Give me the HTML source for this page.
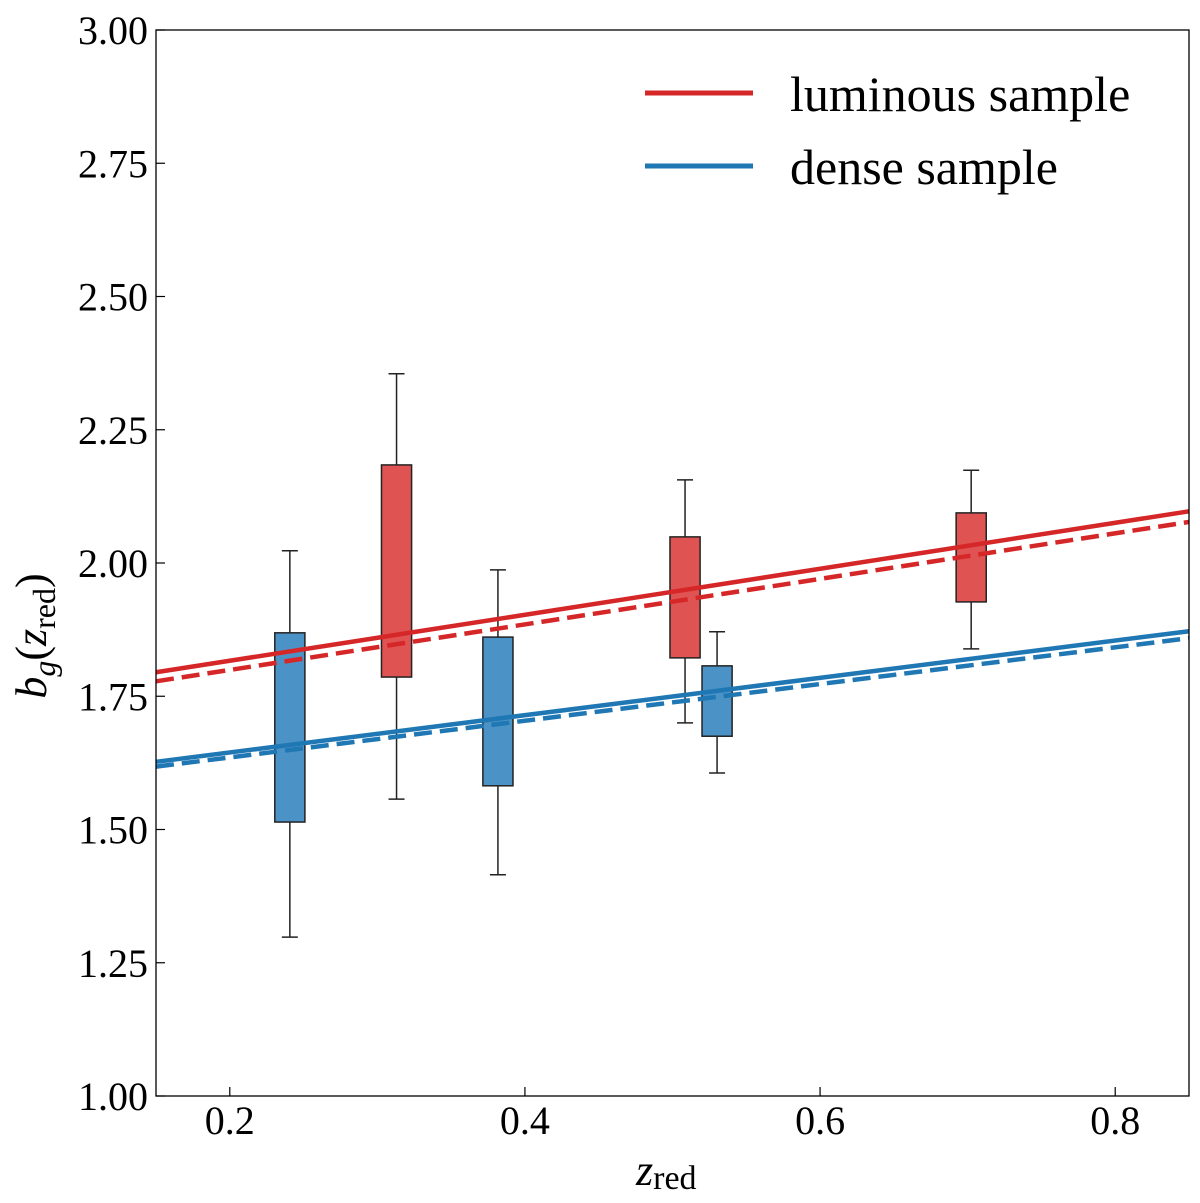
<!DOCTYPE html>
<html><head><meta charset="utf-8"><style>
html,body{margin:0;padding:0;background:#fff;}
body{position:relative;}
svg text{font-family:"Liberation Serif",serif;fill:#000;}
</style></head><body>
<svg id="chart" width="1200" height="1198" xmlns="http://www.w3.org/2000/svg">
<g id="marks"></g>
<g id="axes"></g>
</svg>
<script>
const boxZ=[0.2407,0.313,0.3817,0.5085,0.5302,0.7024];
const boxSeries=["dense","luminous","dense","luminous","dense","luminous"];
const boxQ1=[1.514,1.786,1.582,1.822,1.675,1.927];
const boxQ3=[1.869,2.184,1.861,2.049,1.807,2.094];
const whiskLo=[1.298,1.557,1.415,1.700,1.606,1.839];
const whiskHi=[2.023,2.355,1.987,2.156,1.871,2.174];
const lineX=[0.15,0.85];
const redSolid=[1.795,2.097];
const redDashed=[1.778,2.077];
const blueSolid=[1.627,1.872];
const blueDashed=[1.618,1.859];
const xTicks=[0.2,0.4,0.6,0.8];
const xTickLabels=["0.2","0.4","0.6","0.8"];
const yTicks=[1.0,1.25,1.5,1.75,2.0,2.25,2.5,2.75,3.0];
const yTickLabels=["1.00","1.25","1.50","1.75","2.00","2.25","2.50","2.75","3.00"];

const L=156,R=1189,T=30,B=1096;
const X=v=>L+(v-0.15)/(0.85-0.15)*(R-L);
const Y=v=>B-(v-1)/(3-1)*(B-T);
const NS="http://www.w3.org/2000/svg";
function mk(parent,tag,attrs){const e=document.createElementNS(NS,tag);for(const k in attrs)e.setAttribute(k,attrs[k]);parent.appendChild(e);return e;}
const marks=document.getElementById('marks');
const axes=document.getElementById('axes');

for(let i=0;i<boxZ.length;i++){
  const g=mk(marks,'g',{});
  
  
  const cx=X(boxZ[i]),hw=X(boxZ[i]+0.0102)-cx;
  mk(g,'line',{x1:cx,x2:cx,y1:Y(whiskHi[i]),y2:Y(boxQ3[i]),stroke:'#222','stroke-width':1.5});
  mk(g,'line',{x1:cx,x2:cx,y1:Y(boxQ1[i]),y2:Y(whiskLo[i]),stroke:'#222','stroke-width':1.5});
  mk(g,'line',{x1:cx-8,x2:cx+8,y1:Y(whiskHi[i]),y2:Y(whiskHi[i]),stroke:'#222','stroke-width':1.5});
  mk(g,'line',{x1:cx-8,x2:cx+8,y1:Y(whiskLo[i]),y2:Y(whiskLo[i]),stroke:'#222','stroke-width':1.5});
  mk(g,'rect',{x:cx-hw,y:Y(boxQ3[i]),width:2*hw,height:Y(boxQ1[i])-Y(boxQ3[i]),fill:boxSeries[i]=='dense'?'#4b93c6':'#e05353',stroke:'#222','stroke-width':1.5});
}
function fitLine(vals,color,dash,name){
  const l=mk(marks,'line',{x1:X(lineX[0]),y1:Y(vals[0]),x2:X(lineX[1]),y2:Y(vals[1]),stroke:color,'stroke-width':4.5});
  if(dash)l.setAttribute('stroke-dasharray','18,8');
  
  
}
fitLine(redSolid,'#d62728',false,'luminous-fit-solid');
fitLine(redDashed,'#d62728',true,'luminous-fit-dashed');
fitLine(blueSolid,'#1f77b4',false,'dense-fit-solid');
fitLine(blueDashed,'#1f77b4',true,'dense-fit-dashed');

const frame=mk(axes,'rect',{x:L,y:T,width:R-L,height:B-T,fill:'none',stroke:'#000','stroke-width':1.3});


xTicks.forEach((v,i)=>{
  mk(axes,'line',{x1:X(v),x2:X(v),y1:B,y2:B-9,stroke:'#000','stroke-width':1.2});
  const t=mk(axes,'text',{x:X(v),y:B+38,'font-size':40,'text-anchor':'middle'});
  t.textContent=xTickLabels[i];
  
  
});
yTicks.forEach((v,i)=>{
  mk(axes,'line',{x1:L,x2:L+9,y1:Y(v),y2:Y(v),stroke:'#000','stroke-width':1.2});
  const t=mk(axes,'text',{x:L-8,y:Y(v)+14,'font-size':40,'text-anchor':'end'});
  t.textContent=yTickLabels[i];
  
  
});
</script>
<svg style="position:absolute;left:0;top:0" width="1200" height="1198" xmlns="http://www.w3.org/2000/svg">
<text x="636" y="1185" font-size="44" font-style="italic">z<tspan font-style="normal" font-size="34" dy="4">red</tspan></text>
<text transform="translate(46,636) rotate(-90)" font-size="44" text-anchor="middle"><tspan font-style="italic">b</tspan><tspan font-style="italic" font-size="32" dy="9">g</tspan><tspan dy="-9">(</tspan><tspan font-style="italic">z</tspan><tspan font-size="32" dy="9">red</tspan><tspan dy="-9">)</tspan></text>
<g>
<line x1="645" x2="753" y1="93" y2="93" stroke="#d62728" stroke-width="5"/>
<text x="790" y="111" font-size="50">luminous sample</text>
<line x1="645" x2="753" y1="166" y2="166" stroke="#1f77b4" stroke-width="5"/>
<text x="790" y="184" font-size="50">dense sample</text>
</g>
</svg>
</body></html>
